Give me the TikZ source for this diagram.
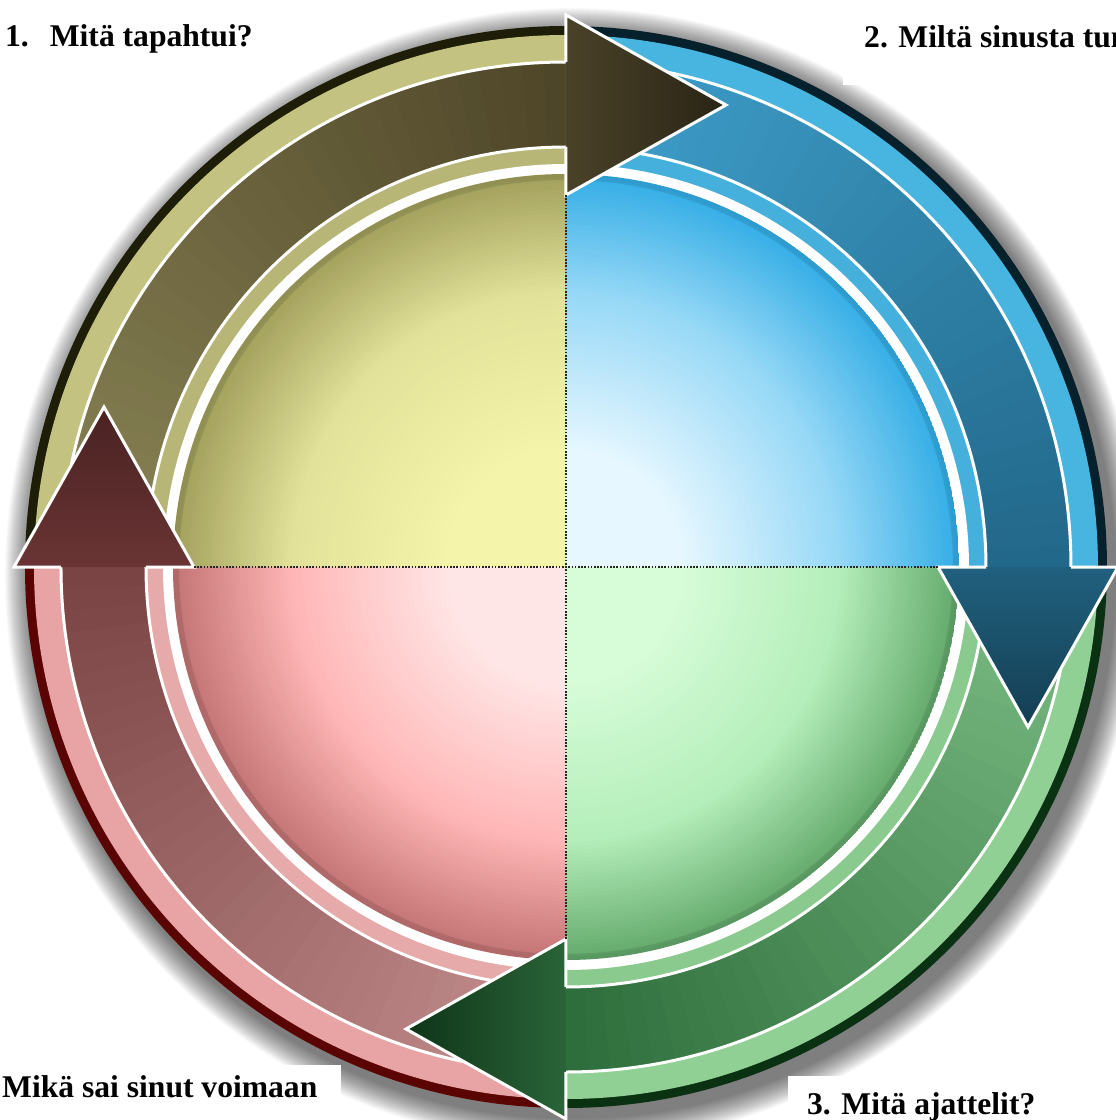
\documentclass[tikz,border=0pt]{standalone}
\usepackage{fontspec}
\setmainfont{Liberation Serif}
\usetikzlibrary{calc}

% top-left (olive)
\definecolor{tlrimdark}{HTML}{1E1E08}
\definecolor{tlrimlight}{HTML}{C4C280}
\definecolor{tlgap}{HTML}{B8B676}
\definecolor{tldiskin}{HTML}{F4F4AA}
\definecolor{tldiskmid}{HTML}{E2E29A}
\definecolor{tldiskout}{HTML}{A2A05C}
\definecolor{tlbandA}{HTML}{8A8456}
\definecolor{tlbandB}{HTML}{4E4628}
\definecolor{tlheadA}{HTML}{4A4228}
\definecolor{tlheadB}{HTML}{2A2416}
% top-right (blue)
\definecolor{trrimdark}{HTML}{06202C}
\definecolor{trrimlight}{HTML}{48B4E0}
\definecolor{trgap}{HTML}{46B0DC}
\definecolor{trdiskin}{HTML}{E6F7FF}
\definecolor{trdiskmid}{HTML}{96D8F6}
\definecolor{trdiskout}{HTML}{34AEE6}
\definecolor{trbandA}{HTML}{3FA0CC}
\definecolor{trbandB}{HTML}{22688A}
\definecolor{trheadA}{HTML}{20607E}
\definecolor{trheadB}{HTML}{143E52}
% bottom-right (green)
\definecolor{brrimdark}{HTML}{0A3212}
\definecolor{brrimlight}{HTML}{90D094}
\definecolor{brgap}{HTML}{8ACA8E}
\definecolor{brdiskin}{HTML}{D6FCD8}
\definecolor{brdiskmid}{HTML}{B4EEBA}
\definecolor{brdiskout}{HTML}{64AA6C}
\definecolor{brbandA}{HTML}{7CBC84}
\definecolor{brbandB}{HTML}{2E6E3C}
\definecolor{brheadA}{HTML}{2A6438}
\definecolor{brheadB}{HTML}{0E3418}
% bottom-left (red)
\definecolor{blrimdark}{HTML}{5A0404}
\definecolor{blrimlight}{HTML}{E8A4A4}
\definecolor{blgap}{HTML}{E6AAAA}
\definecolor{bldiskin}{HTML}{FFE6E6}
\definecolor{bldiskmid}{HTML}{FFB6B6}
\definecolor{bldiskout}{HTML}{C47474}
\definecolor{blbandA}{HTML}{C48E8E}
\definecolor{blbandB}{HTML}{7A4444}
\definecolor{blheadA}{HTML}{6A3434}
\definecolor{blheadB}{HTML}{4A2222}

\newcommand{\quadbase}[3]{%
  \fill[#3rimdark] (0,0) -- (#1:541) arc (#1:#2:541) -- cycle;
  \fill[#3rimlight] (0,0) -- (#1:532) arc (#1:#2:532) -- cycle;
  \fill[#3gap] (0,0) -- (#1:420) arc (#1:#2:420) -- cycle;
  \fill[white] (0,0) -- (#1:403) arc (#1:#2:403) -- cycle;
  \begin{scope}
    \clip (0,0) -- (#1:393) arc (#1:#2:393) -- cycle;
    \foreach \k in {0,...,30}{
      \pgfmathsetmacro\rr{393*(1-0.3*\k/30)}
      \pgfmathtruncatemacro\pp{100-100*\k/30}
      \fill[#3diskout!\pp!#3diskmid] (0,0) circle (\rr);
    }
    \foreach \k in {1,...,40}{
      \pgfmathsetmacro\rr{393*(0.7-0.4*\k/40)}
      \pgfmathtruncatemacro\pp{100-100*\k/40}
      \fill[#3diskmid!\pp!#3diskin] (0,0) circle (\rr);
    }
    \draw[black, opacity=0.10, line width=6pt] (0,0) circle (390);
  \end{scope}
}
\newcommand{\bandbody}[3]{%
  \foreach \k in {0,...,35}{
    \pgfmathsetmacro\aa{#1+(#2-#1)*\k/36}
    \pgfmathsetmacro\ab{#1+(#2-#1)*(\k+1.5)/36}
    \pgfmathtruncatemacro\pp{100*\k/35}
    \fill[#3bandB!\pp!#3bandA] (\aa:420) arc (\aa:\ab:420) -- (\ab:505) arc (\ab:\aa:505) -- cycle;
  }
  \draw[bandline] (#1:420) arc (#1:#2:420);
  \draw[bandline] (#1:505) arc (#1:#2:505);
}
\newcommand{\headtri}[2]{%
  \shade[#2] (#1:372) -- ($(#1:462)+(#1-90:160)$) -- (#1:552) -- cycle;
  \draw[bandline] (#1:420) -- (#1:372) -- ($(#1:462)+(#1-90:160)$) -- (#1:552) -- (#1:505);
}

\begin{document}
\begin{tikzpicture}[x=1pt,y=1pt,
  bandline/.style={white, line width=3pt, line join=miter},
  divider/.style={black!85, line width=1.6pt, dash pattern=on 1.6pt off 1.6pt},
  label/.style={anchor=base west, inner sep=0pt, font=\fontsize{31.6}{38}\selectfont\bfseries}]
\useasboundingbox (-566,-553) rectangle (550,567);
\fill[white] (-566,-553) rectangle (550,567);
\begin{scope}
\clip (-566,-553) rectangle (550,567);
% soft shadow
\foreach \i in {0,...,25} \fill[black,opacity=0.022] (7,-9) circle ({568-\i});
% quadrant backgrounds
\quadbase{90}{180}{tl}
\quadbase{0}{90}{tr}
\quadbase{-90}{0}{br}
\quadbase{180}{270}{bl}
% arrow bodies
\bandbody{180}{90}{tl}
\bandbody{90}{0}{tr}
\bandbody{0}{-90}{br}
\bandbody{-90}{-180}{bl}
% arrow heads
\headtri{90}{left color=tlheadA, right color=tlheadB}
\headtri{0}{top color=trheadA, bottom color=trheadB}
\headtri{-90}{right color=brheadA, left color=brheadB}
\headtri{180}{bottom color=blheadA, top color=blheadB}
% dividers
\draw[divider] (-372,0) -- (372,0);
\draw[divider] (0,372) -- (0,-372);
% labels
\fill[white] (-566,567) rectangle (-278,490);
\node[label] (lab1) at (-561,520) {1.\hspace{21pt}Mitä tapahtui?};
\fill[white] (277,567) rectangle (550,482);
\node[label] (lab2) at (298,519) {2. Miltä sinusta tuntui?};
\fill[white] (222,-509) rectangle (550,-553);
\node[label] (lab3) at (241,-547) {3. Mitä ajattelit?};
\fill[white] (-566,-498) rectangle (-225,-553);
\node[label] (lab4) at (-564,-530) {Mikä sai sinut voimaan};
\end{scope}
\end{tikzpicture}
\end{document}
